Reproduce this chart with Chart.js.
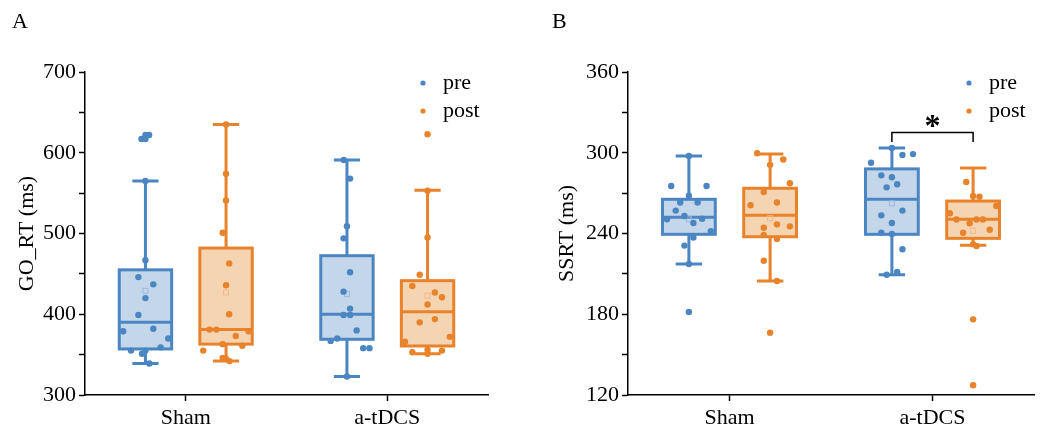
<!DOCTYPE html>
<html>
<head>
<meta charset="utf-8">
<script src="https://cdn.jsdelivr.net/npm/chart.js@4.4.0/dist/chart.umd.min.js"></script>
<style>
  html, body { margin: 0; padding: 0; background: #fff; }
  .wrap { position: absolute; top: 0; height: 433px; }
  #wrapA { left: 0; width: 540px; }
  #wrapB { left: 540px; width: 507px; }
</style>
</head>
<body>
<div class="wrap" id="wrapA"><canvas id="chartA"></canvas></div>
<div class="wrap" id="wrapB"><canvas id="chartB"></canvas></div>
<script>
"use strict";
const categories = ["Sham", "a-tDCS"];
const seriesNames = ["pre", "post"];

// A: GO_RT (ms), one value per subject
const goShamPre = [617, 617, 622, 622, 565, 467, 446, 437, 420, 399, 382, 379, 370, 359, 355, 355, 351, 339];
const goShamPost = [635, 574, 541, 501, 463, 436, 400, 381, 381, 379, 373, 363, 361, 355, 346, 345, 342];
const goTdcsPre = [591, 568, 509, 494, 452, 428, 407, 399, 399, 380, 370, 367, 358, 358, 323];
const goTdcsPost = [623, 553, 495, 449, 435, 427, 421, 412, 394, 390, 372, 366, 356, 355, 353, 351];
// jitter inside the box, as a share of the half box width
const goShamPreJit = [-0.15, 0, 0, 0.14, 0, 0, -0.27, 0.3, 0, -0.27, 0.3, -0.85, 0.87, 0.58, -0.55, 0, -0.13, 0.15];
const goShamPostJit = [0, 0, 0, -0.13, 0.12, 0, 0.12, -0.63, -0.37, 0.86, 0.37, -0.13, 0.62, -0.87, -0.13, 0, 0.13];
const goTdcsPreJit = [-0.12, 0.12, 0, -0.13, 0.12, -0.13, 0.12, -0.13, 0.12, 0.37, -0.37, -0.62, 0.62, 0.86, 0];
const goTdcsPostJit = [0, 0, 0, -0.3, -0.58, 0.28, 0.55, 0, 0.28, -0.3, 0.85, -0.86, 0, 0.55, -0.58, 0];
// box: lower whisker, Q1, median, Q3, upper whisker, mean
const goShamPreBox = [339, 357, 390, 455, 565, 429];
const goShamPostBox = [342, 363, 381, 482, 635, 427];
const goTdcsPreBox = [323, 369, 400, 472.5, 591, 425];
const goTdcsPostBox = [351, 360.7, 403, 441.6, 553.5, 423];

// B: SSRT (ms)
const ssShamPre = [297.6, 275.3, 275.3, 268, 263, 263, 257, 253, 250.5, 251, 247.8, 241.8, 237, 231, 217.3, 181.7];
const ssShamPost = [299.6, 295, 291, 277.3, 270.8, 263, 261, 246.8, 245.3, 244.3, 239, 236, 219.8, 204.7, 166.3];
const ssTdcsPre = [303.5, 299, 298.3, 292.6, 283.2, 281.8, 276.6, 274.3, 257, 253.5, 247.8, 240.6, 239.6, 228.3, 211.4, 209.4];
const ssTdcsPost = [278.3, 267.9, 267.3, 260.4, 255, 250.4, 250.4, 250.4, 247.6, 240.6, 242.8, 232, 230.7, 176.2, 127.2];
const ssShamPreJit = [0, -0.67, 0.67, 0, -0.33, 0.33, -0.5, -0.17, -0.83, 0.5, 0.17, 0.83, 0.17, -0.17, 0, 0];
const ssShamPostJit = [-0.49, 0.5, 0, 0.75, -0.24, 0.26, -0.74, 0.26, 0.75, -0.24, -0.24, 0.26, -0.24, 0.26, 0];
const ssTdcsPreJit = [0, 0.8, 0.4, -0.79, -0.4, 0, 0.2, -0.2, 0.4, -0.4, 0, -0.4, 0, 0.4, 0.2, -0.2];
const ssTdcsPostJit = [-0.26, 0, 0.24, 0.88, -0.88, -0.63, 0.37, 0.13, -0.13, -0.38, 0.63, 0, 0.13, 0, 0];
const ssShamPreBox = [217.3, 239.4, 252, 265.4, 297.6, 250.5];
const ssShamPostBox = [204.7, 237.6, 253.5, 273.6, 299, 251.3];
const ssTdcsPreBox = [209.4, 239.4, 265.4, 288, 303.5, 262.4];
const ssTdcsPostBox = [231.2, 236.4, 250.5, 264.1, 288.7, 241.9];

const serif = "'Liberation Serif', 'Times New Roman', serif";
const blue = "#4b86c3";
const blueFill = "#c4d6ea";
const blueMean = "#9bbbe0";
const orange = "#e8832b";
const orangeFill = "#f5d4b2";
const orangeMean = "#f2b98a";
const groupShift = 0.2;
const halfBox = 0.13;

function toPoints(values, jit, cat, side) {
  const x0 = cat + 1 + side * groupShift;
  return values.map((v, i) => ({ x: x0 + jit[i] * halfBox, y: v }));
}

// boxes, whiskers and mean squares, drawn under the dots
const boxPlugin = {
  id: "boxes",
  beforeDatasetsDraw(chart, args, opts) {
    const { ctx, scales: { x, y } } = chart;
    ctx.save();
    opts.groups.forEach((g) => {
      const [lo, q1, med, q3, hi, mean] = g.stats;
      const xc = x.getPixelForValue(g.x);
      const xl = x.getPixelForValue(g.x - halfBox);
      const xr = x.getPixelForValue(g.x + halfBox);
      const cw = (xr - xl) / 4;
      ctx.lineWidth = 3;
      ctx.strokeStyle = g.color;
      ctx.lineCap = "butt";
      // whiskers
      ctx.beginPath();
      ctx.moveTo(xc, y.getPixelForValue(q3));
      ctx.lineTo(xc, y.getPixelForValue(hi));
      ctx.moveTo(xc, y.getPixelForValue(q1));
      ctx.lineTo(xc, y.getPixelForValue(lo));
      ctx.moveTo(xc - cw, y.getPixelForValue(hi));
      ctx.lineTo(xc + cw, y.getPixelForValue(hi));
      ctx.moveTo(xc - cw, y.getPixelForValue(lo));
      ctx.lineTo(xc + cw, y.getPixelForValue(lo));
      ctx.stroke();
      // box
      const yt = y.getPixelForValue(q3);
      const yb = y.getPixelForValue(q1);
      ctx.fillStyle = g.fill;
      ctx.fillRect(xl, yt, xr - xl, yb - yt);
      ctx.strokeRect(xl, yt, xr - xl, yb - yt);
      ctx.beginPath();
      ctx.moveTo(xl, y.getPixelForValue(med));
      ctx.lineTo(xr, y.getPixelForValue(med));
      ctx.stroke();
      // mean
      ctx.lineWidth = 1;
      ctx.strokeStyle = g.mean;
      const ym = y.getPixelForValue(mean);
      ctx.strokeRect(xc - 2.5, ym - 2.5, 5, 5);
    });
    ctx.restore();
  },
  afterDraw(chart, args, opts) {
    const { ctx, chartArea } = chart;
    ctx.save();
    // panel letter
    ctx.fillStyle = "#000";
    ctx.font = "22px " + serif;
    ctx.textBaseline = "alphabetic";
    ctx.textAlign = "left";
    ctx.fillText(opts.letter, 12, 28);
    // legend
    const colors = [blue, orange];
    seriesNames.forEach((name, i) => {
      const yy = chartArea.top + 11 + i * 28;
      ctx.fillStyle = colors[i];
      ctx.beginPath();
      ctx.arc(chartArea.right - 65, yy, 2.6, 0, Math.PI * 2);
      ctx.fill();
      ctx.fillStyle = "#000";
      ctx.textBaseline = "middle";
      ctx.fillText(name, chartArea.right - 45, yy);
    });
    // significance bracket
    if (opts.sig) {
      const { x, y } = chart.scales;
      const s = opts.sig;
      const x1 = x.getPixelForValue(s.from);
      const x2 = x.getPixelForValue(s.to);
      const yTop = y.getPixelForValue(s.top);
      const yEnd = y.getPixelForValue(s.end);
      ctx.strokeStyle = "#000";
      ctx.lineWidth = 1.5;
      ctx.beginPath();
      ctx.moveTo(x1, yEnd);
      ctx.lineTo(x1, yTop);
      ctx.lineTo(x2, yTop);
      ctx.lineTo(x2, yEnd);
      ctx.stroke();
      ctx.font = "bold 32px " + serif;
      ctx.textAlign = "center";
      ctx.textBaseline = "middle";
      ctx.fillText(s.label, (x1 + x2) / 2, yTop - 5);
    }
    ctx.restore();
  },
};

function makeChart(id, cfg) {
  const dot = { pointRadius: 3.2, pointHoverRadius: 3.2, borderWidth: 0, showLine: false };
  return new Chart(document.getElementById(id), {
    type: "scatter",
    data: {
      datasets: [
        { label: seriesNames[0], data: cfg.pre, backgroundColor: blue, ...dot },
        { label: seriesNames[1], data: cfg.post, backgroundColor: orange, ...dot },
      ],
    },
    options: {
      responsive: true,
      maintainAspectRatio: false,
      animation: false,
      layout: { padding: { top: 72, right: cfg.padRight, left: 0, bottom: 0 } },
      plugins: {
        legend: { display: false },
        tooltip: { enabled: false },
        boxes: { groups: cfg.groups, letter: cfg.letter, sig: cfg.sig },
      },
      scales: {
        x: {
          type: "linear",
          min: 0.5,
          max: 2.5,
          afterFit: (s) => { s.height = 38; },
          afterBuildTicks: (s) => { s.ticks = [{ value: 1 }, { value: 2 }]; },
          border: { color: "#000", width: 1.5 },
          grid: { drawOnChartArea: false, tickLength: 6, tickColor: "#000", tickWidth: 1.5 },
          ticks: {
            color: "#000",
            font: { family: serif, size: 22 },
            padding: 4,
            maxRotation: 0,
            callback: (v) => categories[v - 1],
          },
        },
        y: {
          min: cfg.min,
          max: cfg.max,
          afterFit: (s) => { s.width = cfg.axisLeft; },
          border: { color: "#000", width: 1.5 },
          grid: { drawOnChartArea: false, tickLength: 6, tickColor: "#000", tickWidth: 1.5 },
          ticks: {
            stepSize: cfg.minor,
            color: "#000",
            font: { family: serif, size: 22 },
            padding: 3,
            callback: (v) => (v % cfg.major === 0 ? v : ""),
          },
          title: {
            display: true,
            text: cfg.title,
            color: "#000",
            font: { family: serif, size: 22 },
            padding: { top: 14, bottom: 0 },
          },
        },
      },
    },
    plugins: [boxPlugin],
  });
}

const chartA = makeChart("chartA", {
  letter: "A",
  title: "GO_RT (ms)",
  min: 300, max: 700, minor: 50, major: 100,
  axisLeft: 85, padRight: 52,
  pre: [...toPoints(goShamPre, goShamPreJit, 0, -1), ...toPoints(goTdcsPre, goTdcsPreJit, 1, -1)],
  post: [...toPoints(goShamPost, goShamPostJit, 0, 1), ...toPoints(goTdcsPost, goTdcsPostJit, 1, 1)],
  groups: [
    { x: 1 - groupShift, stats: goShamPreBox, color: blue, fill: blueFill, mean: blueMean },
    { x: 1 + groupShift, stats: goShamPostBox, color: orange, fill: orangeFill, mean: orangeMean },
    { x: 2 - groupShift, stats: goTdcsPreBox, color: blue, fill: blueFill, mean: blueMean },
    { x: 2 + groupShift, stats: goTdcsPostBox, color: orange, fill: orangeFill, mean: orangeMean },
  ],
});

const chartB = makeChart("chartB", {
  letter: "B",
  title: "SSRT (ms)",
  min: 120, max: 360, minor: 30, major: 60,
  axisLeft: 88, padRight: 13,
  pre: [...toPoints(ssShamPre, ssShamPreJit, 0, -1), ...toPoints(ssTdcsPre, ssTdcsPreJit, 1, -1)],
  post: [...toPoints(ssShamPost, ssShamPostJit, 0, 1), ...toPoints(ssTdcsPost, ssTdcsPostJit, 1, 1)],
  groups: [
    { x: 1 - groupShift, stats: ssShamPreBox, color: blue, fill: blueFill, mean: blueMean },
    { x: 1 + groupShift, stats: ssShamPostBox, color: orange, fill: orangeFill, mean: orangeMean },
    { x: 2 - groupShift, stats: ssTdcsPreBox, color: blue, fill: blueFill, mean: blueMean },
    { x: 2 + groupShift, stats: ssTdcsPostBox, color: orange, fill: orangeFill, mean: orangeMean },
  ],
  sig: { from: 2 - groupShift, to: 2 + groupShift, top: 315, end: 308, label: "*" },
});
</script>
</body>
</html>
